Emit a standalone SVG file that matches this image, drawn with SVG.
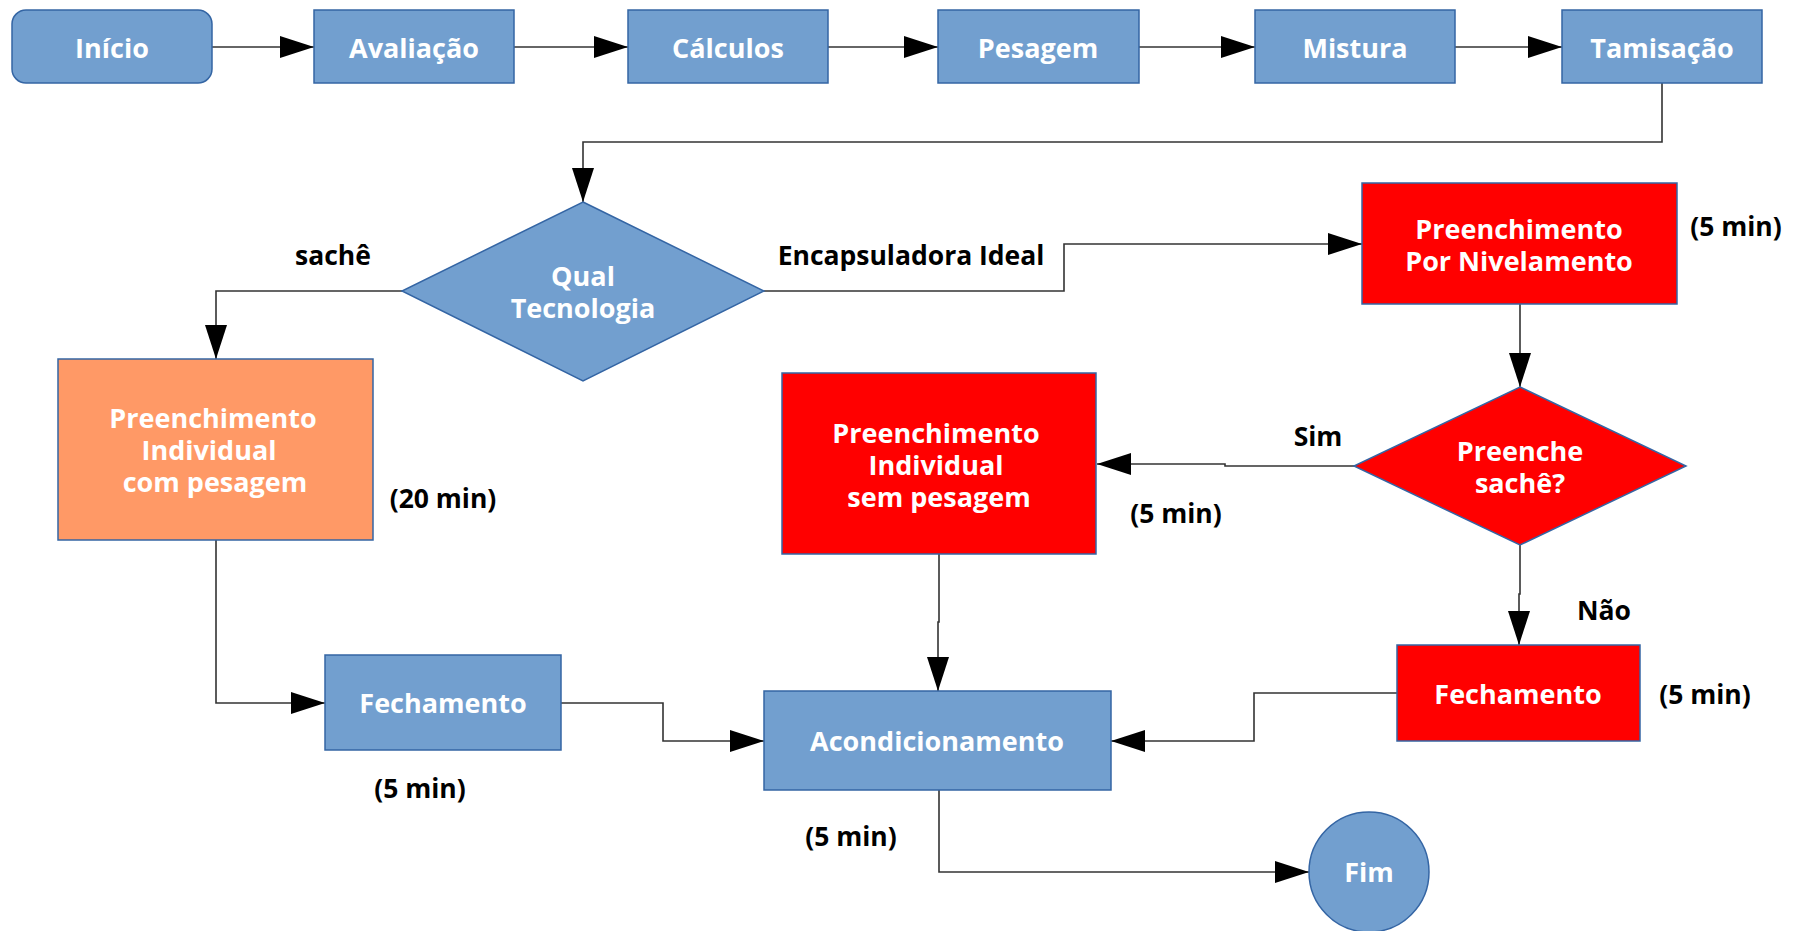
<svg xmlns="http://www.w3.org/2000/svg" width="1796" height="931" viewBox="0 0 1796 931">
<style>
.blue{fill:#729fcf;stroke:#3465a4;stroke-width:1.5}
.red{fill:#ff0000;stroke:#3465a4;stroke-width:1.5}
.orange{fill:#ff9966;stroke:#3465a4;stroke-width:1.5}
.nt{font-family:"Open Sans","DejaVu Sans",sans-serif;font-weight:bold;font-size:27px;fill:#fff;text-anchor:middle}
.lb{font-family:"Open Sans","DejaVu Sans",sans-serif;font-weight:bold;font-size:26.5px;fill:#000;text-anchor:middle}
.cn{fill:none;stroke:#333;stroke-width:1.6}
</style>
<defs>
<marker id="ah" markerWidth="34" markerHeight="22" refX="34" refY="11" orient="auto" markerUnits="userSpaceOnUse"><path d="M0,0 L34,11 L0,22 z" fill="#000"/></marker>
</defs>
<rect width="1796" height="931" fill="#fff"/>
<g id="connectors">
<path class="cn" d="M212,47 H314" marker-end="url(#ah)"/>
<path class="cn" d="M514,47 H628" marker-end="url(#ah)"/>
<path class="cn" d="M828,47 H938" marker-end="url(#ah)"/>
<path class="cn" d="M1139,47 H1255" marker-end="url(#ah)"/>
<path class="cn" d="M1455,47 H1562" marker-end="url(#ah)"/>
<path class="cn" d="M1662,83 V142 H583 V202" marker-end="url(#ah)"/>
<path class="cn" d="M764,291 H1064 V244 H1362" marker-end="url(#ah)"/>
<path class="cn" d="M402,291 H216 V359" marker-end="url(#ah)"/>
<path class="cn" d="M1520,304 V387" marker-end="url(#ah)"/>
<path class="cn" d="M1354,466 H1225 V464 H1097" marker-end="url(#ah)"/>
<path class="cn" d="M1520,545 V594 H1519 V645" marker-end="url(#ah)"/>
<path class="cn" d="M939,554 V622 H938 V691" marker-end="url(#ah)"/>
<path class="cn" d="M216,540 V703 H325" marker-end="url(#ah)"/>
<path class="cn" d="M561,703 H663 V741 H764" marker-end="url(#ah)"/>
<path class="cn" d="M1397,693 H1254 V741 H1111" marker-end="url(#ah)"/>
<path class="cn" d="M939,790 V872 H1309" marker-end="url(#ah)"/>
</g>
<g id="inicio"><rect class="blue" x="12" y="10" width="200" height="73" rx="14"/><text class="nt" x="112" y="58">Início</text></g>
<g id="avaliacao"><rect class="blue" x="314" y="10" width="200" height="73"/><text class="nt" x="414" y="58">Avaliação</text></g>
<g id="calculos"><rect class="blue" x="628" y="10" width="200" height="73"/><text class="nt" x="728" y="58">Cálculos</text></g>
<g id="pesagem"><rect class="blue" x="938" y="10" width="201" height="73"/><text class="nt" x="1038" y="58">Pesagem</text></g>
<g id="mistura"><rect class="blue" x="1255" y="10" width="200" height="73"/><text class="nt" x="1355" y="58">Mistura</text></g>
<g id="tamisacao"><rect class="blue" x="1562" y="10" width="200" height="73"/><text class="nt" x="1662" y="58">Tamisação</text></g>
<g id="qual"><path class="blue" d="M583,202 L764,291 L583,381 L402,291 z"/><text class="nt" x="583" y="286">Qual</text><text class="nt" x="583" y="318">Tecnologia</text></g>
<g id="nivelamento"><rect class="red" x="1362" y="183" width="315" height="121"/><text class="nt" x="1519" y="239">Preenchimento</text><text class="nt" x="1519" y="271">Por Nivelamento</text></g>
<g id="preenche"><path class="red" d="M1520,387 L1686,466 L1520,545 L1354,466 z"/><text class="nt" x="1520" y="461">Preenche</text><text class="nt" x="1520" y="493">sachê?</text></g>
<g id="sempesagem"><rect class="red" x="782" y="373" width="314" height="181"/><text class="nt" x="936" y="443">Preenchimento</text><text class="nt" x="936" y="475">Individual</text><text class="nt" x="939" y="507">sem pesagem</text></g>
<g id="compesagem"><rect class="orange" x="58" y="359" width="315" height="181"/><text class="nt" x="213" y="428">Preenchimento</text><text class="nt" x="209" y="460">Individual</text><text class="nt" x="215" y="492">com pesagem</text></g>
<g id="fechamento1"><rect class="blue" x="325" y="655" width="236" height="95"/><text class="nt" x="443" y="713">Fechamento</text></g>
<g id="fechamento2"><rect class="red" x="1397" y="645" width="243" height="96"/><text class="nt" x="1518" y="704">Fechamento</text></g>
<g id="acondicionamento"><rect class="blue" x="764" y="691" width="347" height="99"/><text class="nt" x="937" y="751">Acondicionamento</text></g>
<g id="fim"><circle class="blue" cx="1369" cy="872" r="60"/><text class="nt" x="1369" y="882">Fim</text></g>
<g id="labels">
<text class="lb" x="333" y="265">sachê</text>
<text class="lb" x="911" y="265">Encapsuladora Ideal</text>
<text class="lb" x="1736" y="236">(5 min)</text>
<text class="lb" x="1318" y="446">Sim</text>
<text class="lb" x="1176" y="523">(5 min)</text>
<text class="lb" x="443" y="508">(20 min)</text>
<text class="lb" x="1604" y="620">Não</text>
<text class="lb" x="1705" y="704">(5 min)</text>
<text class="lb" x="420" y="798">(5 min)</text>
<text class="lb" x="851" y="846">(5 min)</text>
</g>
</svg>
